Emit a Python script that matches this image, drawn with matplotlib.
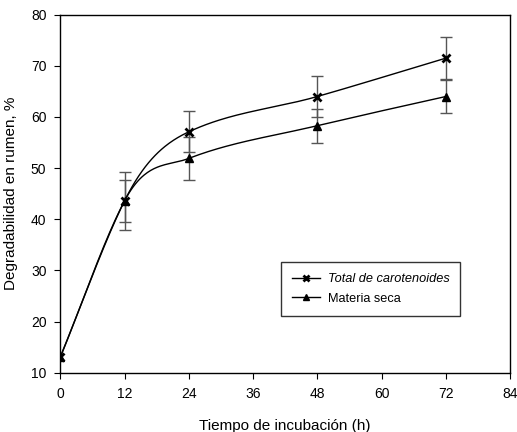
import numpy as np
import matplotlib
matplotlib.use("Agg")
import matplotlib.pyplot as plt
from matplotlib.lines import Line2D

plt.rcParams['font.family'] = ['Liberation Sans', 'DejaVu Sans']

hours = [0, 12, 24, 48, 72]
carot = [13.1, 43.6, 57.1, 64.0, 71.5]
carot_err = [0.0, 5.7, 4.0, 4.0, 4.1]
ms = [13.0, 43.6, 51.9, 58.3, 64.0]
ms_err = [0.0, 4.1, 4.2, 3.3, 3.2]
xticks = [0, 12, 24, 36, 48, 60, 72, 84]
yticks = [10, 20, 30, 40, 50, 60, 70, 80]


def smooth(x, y, n=60):
    x = np.asarray(x, float)
    y = np.asarray(y, float)
    h = np.diff(x)
    d = np.diff(y) / h
    m = np.zeros_like(y)
    for k in range(1, len(x) - 1):
        w1 = 2 * h[k] + h[k - 1]
        w2 = h[k] + 2 * h[k - 1]
        m[k] = (w1 + w2) / (w1 / d[k - 1] + w2 / d[k])
    m[0] = d[0]
    m[1] = 0.7 * d[0] + 0.3 * d[1]
    m[-1] = d[-1]
    xs, ys = [], []
    for i in range(len(x) - 1):
        hh = h[i]
        t = np.linspace(0, 1, n)
        h00 = 2 * t**3 - 3 * t**2 + 1
        h10 = t**3 - 2 * t**2 + t
        h01 = -2 * t**3 + 3 * t**2
        h11 = t**3 - t**2
        xs.append(x[i] + t * hh)
        ys.append(h00 * y[i] + h10 * hh * m[i] + h01 * y[i + 1] + h11 * hh * m[i + 1])
    return np.concatenate(xs), np.concatenate(ys)


fig = plt.figure(figsize=(5.17, 4.32), dpi=100)
ax = fig.add_axes([60.3 / 517, 1 - 372.7 / 432, (510 - 60.3) / 517, (372.7 - 14.7) / 432])

for y, e, mk, ms_, mew in [(carot, carot_err, 'x', 6, 2.0), (ms, ms_err, '^', 6, 1.0)]:
    sx, sy = smooth(hours, y)
    ax.plot(sx, sy, color='black', lw=1.0, zorder=2)
    ax.errorbar(hours[1:], y[1:], yerr=e[1:], fmt='none', ecolor='#555555',
                elinewidth=1.0, capsize=4, capthick=1.0, zorder=1)
    ax.plot(hours, y, linestyle='none', marker=mk, color='black', markersize=ms_,
            markeredgewidth=mew, zorder=3)

ax.set_xlim(0, 84)
ax.set_ylim(10, 80)
ax.set_xticks(xticks)
ax.set_yticks(yticks)
ax.tick_params(direction='out', length=4, labelsize=10, top=False, right=False, pad=6)
for s in ax.spines.values():
    s.set_linewidth(1.0)

ax.set_xlabel('Tiempo de incubación (h)', fontsize=11, labelpad=13)
ax.set_ylabel('Degradabilidad en rumen, %', fontsize=11, labelpad=9)

handles = [Line2D([], [], color='black', lw=1, marker='x', markersize=5, markeredgewidth=2),
           Line2D([], [], color='black', lw=1, marker='^', markersize=5)]
leg = ax.legend(handles, ['Total de carotenoides', 'Materia seca'],
                loc='upper left', bbox_to_anchor=((281 - 60.3) / 449.7, 1 - (262.3 - 14.7) / 358),
                fontsize=9.2, frameon=True, fancybox=False, edgecolor='black',
                handlelength=2.2, borderpad=0.85, labelspacing=0.6, handletextpad=0.6,
                borderaxespad=0)
leg.get_frame().set_linewidth(1.0)
leg.get_texts()[0].set_fontstyle('italic')

fig.savefig('out.png', dpi=100)
